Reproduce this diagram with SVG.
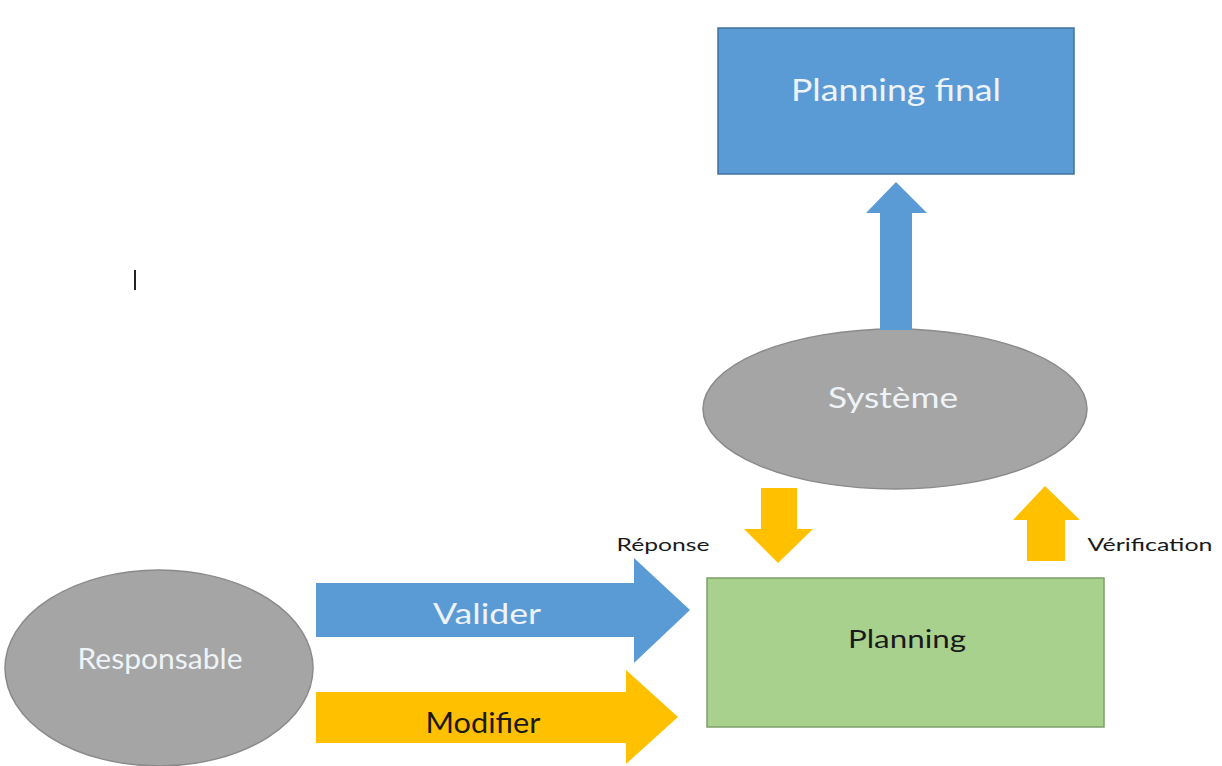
<svg xmlns="http://www.w3.org/2000/svg" width="1222" height="766" viewBox="0 0 1222 766">
<style>
.blue{fill:#5b9bd5}
.bluebox{fill:#5b9bd5;stroke:#41719c;stroke-width:1.5}
.gray{fill:#a5a5a5;stroke:#8a8a8a;stroke-width:1.5}
.yellow{fill:#ffc000}
.green{fill:#a9d18e;stroke:#7f9f6a;stroke-width:1.5}
text{font-family:Lato,"Liberation Sans",sans-serif;text-anchor:middle}
.w{fill:#eef3f8}
.k{fill:#1a1a1a}
</style>
<rect width="1222" height="766" fill="#ffffff"/>
<line x1="135" y1="270" x2="135" y2="290" stroke="#222" stroke-width="2"/>
<g id="planning-final">
<rect class="bluebox" x="718" y="28" width="356" height="146"/>
<text class="w" x="896" y="101" font-size="31" textLength="210" lengthAdjust="spacingAndGlyphs">Planning final</text>
</g>
<g id="systeme">
<ellipse class="gray" cx="895" cy="409" rx="192" ry="80"/>
<text class="w" x="893" y="408" font-size="29" textLength="130" lengthAdjust="spacingAndGlyphs">Système</text>
</g>
<g id="planning">
<rect class="green" x="707" y="578" width="397" height="149"/>
<text class="k" x="907" y="648" font-size="25" textLength="118" lengthAdjust="spacingAndGlyphs">Planning</text>
</g>
<g id="responsable">
<ellipse class="gray" cx="159" cy="668" rx="154" ry="98"/>
<text class="w" x="160" y="669" font-size="28" textLength="165" lengthAdjust="spacingAndGlyphs">Responsable</text>
</g>
<g id="connectors">
<polygon class="blue" points="880,330 880,213 866,213 896,182 927,213 912,213 912,330"/>
<polygon class="yellow" points="761,488 797,488 797,529 813,529 778,563 744,529 761,529"/>
<polygon class="yellow" points="1027,561 1027,520 1013,520 1045,486 1080,520 1065,520 1065,561"/>
<polygon class="blue" points="316,583 634,583 634,558 690,610 634,663 634,637 316,637"/>
<polygon class="yellow" points="316,692 626,692 626,670 678,717 626,764 626,743 316,743"/>
<text class="w" x="487" y="624" font-size="29" textLength="108" lengthAdjust="spacingAndGlyphs">Valider</text>
<text class="k" x="483" y="733" font-size="28" textLength="115" lengthAdjust="spacingAndGlyphs">Modifier</text>
<text class="k" x="663" y="551" font-size="17" textLength="93" lengthAdjust="spacingAndGlyphs">Réponse</text>
<text class="k" x="1150" y="551" font-size="17" textLength="125" lengthAdjust="spacingAndGlyphs">Vérification</text>
</g>
</svg>
